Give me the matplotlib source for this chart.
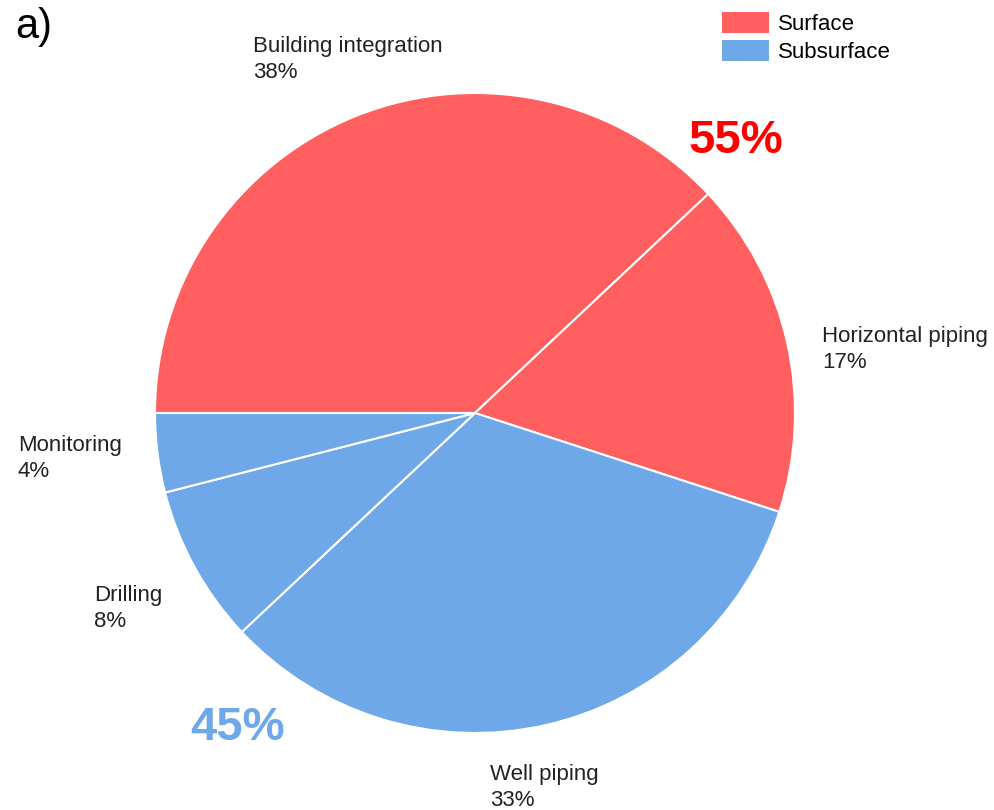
import matplotlib.pyplot as plt
from matplotlib.patches import Patch

plt.rcParams['font.family'] = ['Liberation Sans', 'DejaVu Sans']

# Cost shares by component
components = ["Building integration", "Horizontal piping", "Well piping", "Drilling", "Monitoring"]
shares = [38, 17, 33, 8, 4]
groups = ["Surface", "Surface", "Subsurface", "Subsurface", "Subsurface"]
group_names = ["Surface", "Subsurface"]
group_totals = [55, 45]

RED = "#FF5F5F"
BLUE = "#6FA8E9"
group_colors = {"Surface": RED, "Subsurface": BLUE}

W, H = 994, 810
fig = plt.figure(figsize=(W / 100, H / 100), dpi=100)
ax = fig.add_axes([0, 0, 1, 1])

ax.pie(shares, colors=[group_colors[g] for g in groups], startangle=180,
       counterclock=False, center=(475, H - 413), radius=320,
       wedgeprops=dict(edgecolor="white", linewidth=1.5))
ax.set_xlim(0, W)
ax.set_ylim(0, H)
ax.set_aspect("equal")
ax.axis("off")

# slice labels: name on first line, percentage below
label_pos = [(253, 52), (822, 342), (490, 780), (94, 601), (18, 451)]
for name, val, (x, y) in zip(components, shares, label_pos):
    ax.text(x, H - y, name, fontsize=16, color="#222222", va="baseline", ha="left")
    ax.text(x, H - y - 26, f"{val}%", fontsize=16, color="#222222", va="baseline", ha="left")

# group totals
ax.text(688, H - 153, f"{group_totals[0]}%", fontsize=34, fontweight="bold",
        color="#FF0000", va="baseline", ha="left")
ax.text(190, H - 740, f"{group_totals[1]}%", fontsize=34, fontweight="bold",
        color=BLUE, va="baseline", ha="left")

ax.text(15, H - 38, "a)", fontsize=30, va="baseline", ha="left")

handles = [Patch(facecolor=group_colors[g], edgecolor="none") for g in group_names]
ax.legend(handles, group_names, loc="upper left", bbox_to_anchor=(722 / W, 1 - 12 / H),
          frameon=False, fontsize=16, handlelength=2.1, handleheight=1.05,
          handletextpad=0.4, labelspacing=0.25, borderpad=0, borderaxespad=0)

fig.savefig("out.png", dpi=100)
